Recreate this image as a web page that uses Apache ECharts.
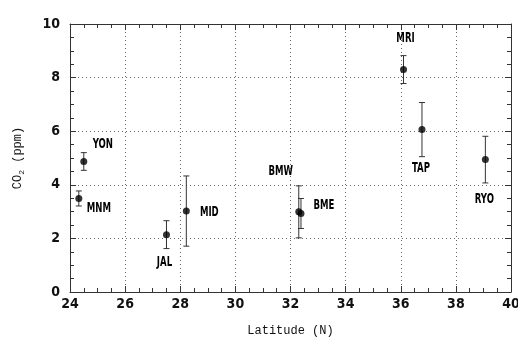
<!DOCTYPE html>
<html>
<head>
<meta charset="utf-8">
<script src="https://cdn.jsdelivr.net/npm/echarts@6/dist/echarts.min.js"></script>
<style>
  html, body { margin: 0; padding: 0; background: #fff; }
  #chart { width: 518px; height: 338px; }
</style>
</head>
<body>
<div id="chart"></div>
<script>
// stations, latitude (N) and CO2 (ppm) with error half-width
const stations = ['MNM', 'YON', 'JAL', 'MID', 'BMW', 'BME', 'MRI', 'TAP', 'RYO'];
const latitude = [24.32, 24.5, 27.5, 28.22, 32.3, 32.38, 36.1, 36.77, 39.07];
const co2 = [3.49, 4.87, 2.14, 3.02, 2.99, 2.93, 8.3, 6.06, 4.94];
const errors = [0.28, 0.33, 0.52, 1.31, 0.97, 0.56, 0.52, 1.01, 0.87];

const xTicks = [24, 26, 28, 30, 32, 34, 36, 38, 40];
const yTicks = [0, 2, 4, 6, 8, 10];

// label placement (pixel offsets from the point)
const labelOffsets = [[20, 10], [19, -17], [-2, 28], [23, 1], [-18, -41], [23, -8], [2, -31], [-1, 39], [-1, 40]];

const tickFont = "'DejaVu Sans Condensed', 'Liberation Sans', sans-serif";

const chart = echarts.init(document.getElementById('chart'));

const axisBase = (ticks) => ({
  type: 'value',
  min: ticks[0],
  max: ticks[ticks.length - 1],
  interval: 2,
  axisLine: { show: true, onZero: false, lineStyle: { color: '#333', width: 1 } },
  axisTick: { show: true, inside: true, length: 6, lineStyle: { color: '#333' } },
  minorTick: { show: true, splitNumber: 4, length: 4, lineStyle: { color: '#333' } }
});
const gridLine = { show: true, lineStyle: { type: [1, 3], color: '#666', width: 1 } };
const tickLabel = { fontFamily: tickFont, fontWeight: 'bold', fontSize: 14, color: '#111' };

const options = {
  backgroundColor: '#fff',
  animation: false,
  grid: { left: 70, right: 7, top: 24, bottom: 46, outerBoundsMode: 'none' },
  xAxis: [
    Object.assign(axisBase(xTicks), {
      position: 'bottom',
      name: 'Latitude (N)',
      nameLocation: 'middle',
      nameGap: 33,
      nameTextStyle: { fontFamily: "'Liberation Mono', monospace", fontSize: 12, color: '#111' },
      axisLabel: Object.assign({ margin: 5 }, tickLabel),
      splitLine: gridLine
    }),
    Object.assign(axisBase(xTicks), {
      position: 'top',
      axisLabel: { show: false },
      splitLine: { show: false }
    })
  ],
  yAxis: [
    Object.assign(axisBase(yTicks), {
      position: 'left',
      name: '{a|CO}{b|2}{a| (ppm)}',
      nameLocation: 'middle',
      nameGap: 44,
      nameTextStyle: {
        rich: {
          a: { fontFamily: "'Liberation Mono', monospace", fontSize: 12, color: '#111' },
          b: { fontFamily: "'Liberation Mono', monospace", fontSize: 8, color: '#111', padding: [8, 0, 0, 0] }
        }
      },
      axisLabel: Object.assign({ margin: 10 }, tickLabel),
      splitLine: gridLine
    }),
    Object.assign(axisBase(yTicks), {
      position: 'right',
      axisLabel: { show: false },
      splitLine: { show: false }
    })
  ],
  series: [
    {
      type: 'custom',
      xAxisIndex: 0,
      yAxisIndex: 0,
      data: latitude.map((x, i) => [x, co2[i], errors[i], i]),
      renderItem: (params, api) => {
        const x = api.value(0), y = api.value(1), e = api.value(2), i = api.value(3);
        const top = api.coord([x, y + e]);
        const bot = api.coord([x, y - e]);
        const mid = api.coord([x, y]);
        const st = { stroke: '#333', lineWidth: 1 };
        const off = labelOffsets[i];
        return {
          type: 'group',
          children: [
            { type: 'line', shape: { x1: top[0], y1: top[1], x2: bot[0], y2: bot[1] }, style: st },
            { type: 'line', shape: { x1: top[0] - 3, y1: top[1], x2: top[0] + 3, y2: top[1] }, style: st },
            { type: 'line', shape: { x1: bot[0] - 3, y1: bot[1], x2: bot[0] + 3, y2: bot[1] }, style: st },
            {
              type: 'text',
              x: mid[0] + off[0],
              y: mid[1] + off[1],
              scaleX: 0.68,
              style: {
                text: stations[i],
                fill: '#000',
                font: "bold 14px 'DejaVu Sans Condensed', 'Liberation Sans', sans-serif",
                align: 'center',
                verticalAlign: 'middle'
              }
            }
          ]
        };
      },
      z: 3
    },
    {
      type: 'scatter',
      xAxisIndex: 0,
      yAxisIndex: 0,
      symbol: 'circle',
      symbolSize: 7,
      itemStyle: { color: '#000' },
      data: latitude.map((x, i) => [x, co2[i]]),
      z: 4
    }
  ]
};

chart.setOption(options);
</script>
</body>
</html>
